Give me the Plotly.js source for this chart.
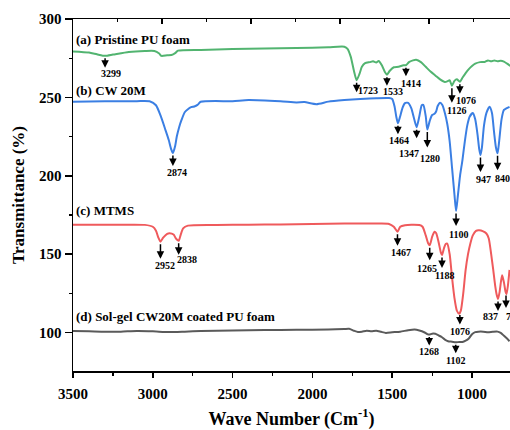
<!DOCTYPE html>
<html>
<head>
<meta charset="utf-8">
<script src="https://cdn.plot.ly/plotly-3.0.1.min.js"></script>
<style>
html,body{margin:0;padding:0;overflow:hidden;background:#fff;}
#chart{width:510px;height:430px;}
</style>
</head>
<body>
<div id="chart"></div>
<script>
// ---------- DATA ----------
const seriesNames = ["(a) Pristine PU foam", "(b) CW 20M", "(c) MTMS", "(d) Sol-gel CW20M coated PU foam"];

const wnA = [3500,3400,3350,3299,3250,3150,3050,2990,2960,2946,2910,2883,2860,2842,2700,2500,2300,2100,1900,1800,1780,1760,1740,1723,1705,1690,1670,1640,1620,1600,1585,1565,1545,1533,1515,1490,1460,1430,1414,1395,1370,1350,1320,1290,1260,1230,1200,1170,1150,1140,1126,1110,1095,1076,1060,1040,1020,1000,980,950,920,900,880,860,840,820,800,780,760];
const tA  = [279.3,278.6,277.5,276.5,277.3,279.0,279.6,279.6,278.0,276.5,276.9,277.0,278.2,279.8,280.3,280.8,281.2,281.5,282.0,282.3,281.0,276.0,267.0,261.0,265.0,269.5,271.8,272.5,273.0,272.2,273.2,270.5,266.0,264.5,267.0,269.2,269.5,270.5,270.5,272.5,273.6,274.0,272.5,269.5,266.5,264.0,261.5,259.8,260.5,261.0,257.5,260.5,261.5,260.0,262.5,265.5,268.0,270.0,271.5,272.5,272.6,273.6,273.0,273.6,273.0,273.3,272.8,271.5,270.0];

const wnB = [3500,3300,3100,3020,2980,2950,2920,2900,2885,2874,2860,2850,2835,2820,2800,2780,2760,2740,2720,2700,2500,2400,2200,2100,2050,1975,1900,1800,1700,1600,1520,1500,1485,1475,1464,1450,1435,1420,1400,1380,1362,1347,1330,1315,1305,1290,1280,1265,1250,1235,1225,1215,1200,1185,1170,1155,1140,1125,1110,1100,1090,1075,1060,1045,1030,1015,995,980,965,955,947,938,925,910,890,875,862,850,840,830,815,800,785,765];
const tB  = [247.3,247.5,247.6,247.5,245.0,238.0,229.0,222.8,217.0,214.5,219.0,224.9,231.0,235.6,240.5,242.5,243.8,244.2,245.2,247.2,247.6,248.3,247.5,246.8,247.0,245.7,247.3,248.3,249.0,249.5,249.6,249.0,244.0,238.0,233.5,238.0,243.5,246.3,246.5,243.0,236.0,231.0,238.0,245.0,245.2,238.0,229.5,235.0,238.8,239.5,241.0,244.5,246.6,245.0,240.0,233.0,222.0,205.0,188.0,177.5,186.0,200.0,210.0,222.0,232.0,237.7,240.0,236.0,226.0,217.0,213.2,218.0,232.0,240.0,244.0,240.0,228.0,218.0,214.3,222.0,236.0,242.0,243.0,244.0];

const wnC = [3500,3200,3050,3000,2980,2965,2952,2935,2910,2895,2870,2855,2838,2825,2810,2780,2600,2400,2200,2000,1800,1600,1520,1490,1467,1450,1420,1380,1330,1310,1290,1275,1265,1250,1235,1225,1210,1195,1188,1175,1165,1155,1140,1125,1110,1095,1080,1070,1055,1040,1025,1010,995,975,955,930,910,895,880,867,855,845,837,827,818,811,800,790,784,775,765];
const tC  = [168.8,168.8,168.7,167.5,165.0,160.5,158.0,160.5,163.0,163.4,162.5,160.0,158.5,162.5,166.5,168.2,168.6,168.8,169.0,169.3,169.6,169.5,169.3,167.5,164.3,167.5,168.5,168.8,168.6,167.5,162.0,157.0,155.7,161.0,164.3,163.5,158.0,151.0,149.5,154.0,156.5,156.8,150.0,135.0,122.0,114.0,112.0,114.0,125.0,140.0,150.0,157.0,162.0,164.9,165.2,164.5,163.2,160.0,150.0,140.0,130.0,124.0,121.5,126.0,133.0,136.5,132.0,126.0,124.5,130.0,140.0];

const wnD = [3500,3400,3300,3200,3100,3000,2900,2800,2700,2500,2300,2100,1900,1800,1770,1740,1715,1690,1660,1630,1600,1570,1540,1500,1450,1400,1360,1330,1300,1280,1268,1250,1230,1210,1190,1170,1150,1125,1102,1080,1060,1040,1020,1000,980,960,930,900,870,840,820,800,784,765];
const tD  = [101.0,100.8,100.5,100.6,101.0,100.8,100.3,100.6,101.0,101.3,101.6,101.8,102.0,102.3,102.4,101.2,100.4,100.6,101.2,100.9,101.2,100.5,99.8,100.2,100.6,101.5,101.9,101.3,100.2,99.0,98.7,99.3,99.2,98.2,97.2,95.5,94.5,94.2,93.8,94.0,94.0,94.8,96.2,99.0,100.3,100.6,100.6,100.2,100.5,100.6,99.8,98.0,96.5,94.5];

// peak labels (wavenumber = label text) for each series
const peaksA = [3299,1723,1533,1414,1126,1076];
const peaksB = [2874,1464,1347,1280,1100,947,840];
const peaksC = [2952,2838,1467,1265,1188,1076,837,787];
const peaksD = [1268,1102];

const xTickVals = [3500,3000,2500,2000,1500,1000];
const yTickVals = [100,150,200,250,300];

// ---------- STYLE ----------
const colors = ["#52b470","#3b7fe3","#ef5a5c","#5a5a5a"];
// per-peak label placement: [dx px, label-centre distance below curve px, arrow length px]
const placeA = [[6,18,11],[11,10,11],[6,17,10],[5,18,10],[5,25,16],[6,19,11]];
const placeB = [[4,19,12],[1,17,10],[-8,26,10],[3,29,17],[2,23,14],[3,24,16],[5,25,16]];
const placeC = [[5,24,16],[8,19,13],[4,21,13],[-3,23,14],[2,21,12],[0,19,11],[-8,18,11],[7,23,14]];
const placeD = [[0,17,10],[0,18,10]];

const FONT = "Liberation Serif, Times New Roman, serif";

function interp(xs, ys, w){
  for(let i=0;i<xs.length-1;i++){
    const a=xs[i], b=xs[i+1];
    if((w<=a && w>=b) || (w>=a && w<=b)){
      const t=(w-a)/(b-a);
      return ys[i]+t*(ys[i+1]-ys[i]);
    }
  }
  return ys[ys.length-1];
}

const wnList=[wnA,wnB,wnC,wnD], tList=[tA,tB,tC,tD];
const peakList=[peaksA,peaksB,peaksC,peaksD], placeList=[placeA,placeB,placeC,placeD];
const nameY=[286.7,254.1,178.1,110.4];

const traces = wnList.map((w,i)=>({
  x:w, y:tList[i], type:'scatter', mode:'lines', name:seriesNames[i],
  line:{color:colors[i], width:2, shape:'spline', smoothing:0.6},
  showlegend:false, hoverinfo:'x+y'
}));
traces.push({x:[], y:[], xaxis:'x2', type:'scatter', mode:'lines', showlegend:false, hoverinfo:'skip'});

const annotations=[];
peakList.forEach((pk,i)=>{
  pk.forEach((w,j)=>{
    const v=interp(wnList[i], tList[i], w);
    const [dx,dy,len]=placeList[i][j];
    annotations.push({x:w, y:v, xref:'x', yref:'y', text:'', showarrow:true,
      arrowhead:2, arrowsize:1, arrowwidth:1.5, arrowcolor:'#000',
      ax:0, ay:-len, yshift:-(1+len)});
    annotations.push({x:w, y:v, xref:'x', yref:'y', text:String(w), showarrow:false,
      xshift:dx, yshift:-dy, font:{family:FONT, size:10, color:'#000', weight:'bold'}});
  });
});
seriesNames.forEach((n,i)=>{
  annotations.push({x:3500, y:nameY[i], xref:'x', yref:'y', text:n, showarrow:false,
    xanchor:'left', yanchor:'middle', xshift:1,
    font:{family:FONT, size:13, color:'#000', weight:'bold'}});
});

const layout = {
  width:510, height:430,
  margin:{l:73, r:0, t:19, b:59},
  paper_bgcolor:'#fff', plot_bgcolor:'#fff',
  font:{family:FONT, color:'#000'},
  xaxis:{
    range:[3500,762], tickvals:xTickVals, ticktext:xTickVals.map(String),
    ticks:'outside', ticklen:5, tickwidth:1.5, tickcolor:'#000',
    minor:{dtick:250, tick0:0, ticks:'outside', ticklen:3, tickwidth:1.2, tickcolor:'#000'},
    showline:true, linecolor:'#000', linewidth:1.5, showgrid:false, zeroline:false,
    tickfont:{family:FONT, size:15, weight:'bold'}, ticklabelstandoff:3,
    title:{text:'Wave Number (Cm<sup>-1</sup>)', font:{family:FONT, size:18, weight:'bold'}, standoff:19}
  },
  xaxis2:{
    overlaying:'x', side:'top', anchor:'y', range:[0,9.82],
    dtick:2, tick0:0, ticks:'inside', ticklen:5, tickwidth:1.2, tickcolor:'#000',
    minor:{dtick:1, tick0:0, ticks:'inside', ticklen:3, tickcolor:'#000'},
    showticklabels:false, showline:true, linecolor:'#000', linewidth:1.5,
    showgrid:false, zeroline:false, fixedrange:true
  },
  yaxis:{
    range:[75.5,300], tickvals:yTickVals, ticktext:yTickVals.map(String),
    ticks:'outside', ticklen:7, tickwidth:1.5, tickcolor:'#000',
    minor:{dtick:25, tick0:0, ticks:'outside', ticklen:3, tickwidth:1.2, tickcolor:'#000'},
    showline:true, linecolor:'#000', linewidth:1.5, showgrid:false, zeroline:false,
    tickfont:{family:FONT, size:15, weight:'bold'},
    title:{text:'Transmittance (%)', font:{family:FONT, size:17, weight:'bold'}, standoff:10}
  },
  annotations:annotations
};

Plotly.newPlot('chart', traces, layout, {displayModeBar:false, staticPlot:true});
</script>
</body>
</html>
